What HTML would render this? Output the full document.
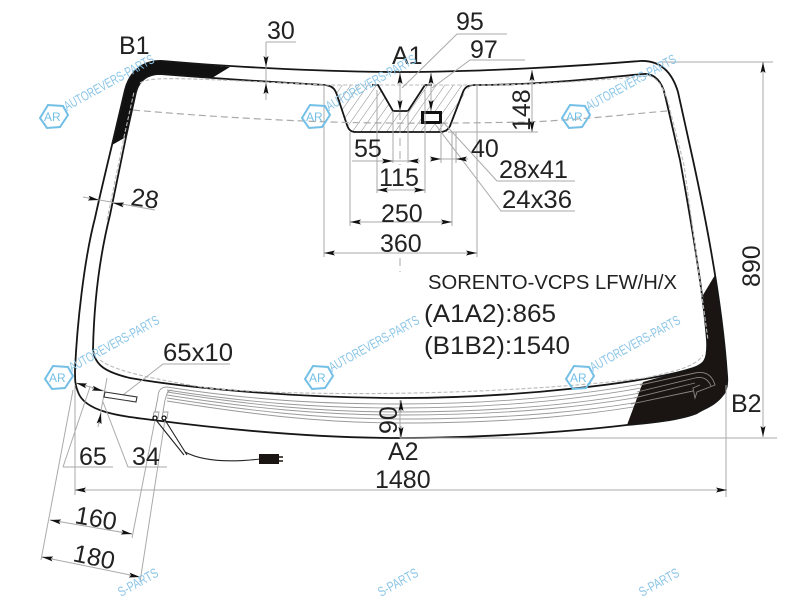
<!DOCTYPE html>
<html><head><meta charset="utf-8"><style>
html,body{margin:0;padding:0;background:#fff;width:800px;height:600px;overflow:hidden}
svg{display:block}
.t{font-family:"Liberation Sans",sans-serif;font-size:25px;fill:#222}
.d{stroke:#aaa;stroke-width:1;fill:none}
.a{stroke:#999;stroke-width:1;fill:none;marker-end:url(#ar)}
.m{font-family:"Liberation Sans",sans-serif;font-size:13.500px;fill:#8cc6e8}
.h{fill:none;stroke:#73bfe6;stroke-width:2}
.l{font-family:"Liberation Sans",sans-serif;font-size:12px;fill:#73bfe6}
.ht{fill:none;stroke:#999;stroke-width:.9}
</style></head><body>
<svg width="800" height="600" viewBox="0 0 800 600" xmlns="http://www.w3.org/2000/svg">
<defs>
<marker id="ar" markerUnits="userSpaceOnUse" markerWidth="11" markerHeight="7" refX="11" refY="3.5" orient="auto"><path d="M0 1L11 3.5L0 6L2 3.5Z" fill="#111"/></marker>
<pattern id="hat" width="7" height="7" patternUnits="userSpaceOnUse" patternTransform="rotate(35)"><rect width="7" height="7" fill="#fff"/><line x1="0" y1="0" x2="0" y2="7" stroke="#888" stroke-width="1"/></pattern>
</defs>
<rect width="800" height="600" fill="#fff"/>

<!-- hatch -->
<path d="M325 85L335 90L350 132L448 132L466 90L475 85L425 85L408 111L393 111L378 85Z" fill="url(#hat)"/>

<!-- heating lines -->
<path class="ht" d="M167 387C250 400 320 404 400 404C500 404 600 395 695 373"/>
<path class="ht" d="M167 390C250 403 320 408 400 408C500 408 600 399 695 377"/>
<path class="ht" d="M167 392C250 405 320 412 400 412C500 412 600 404 695 382"/>
<path class="ht" d="M167 395C250 408 320 415 400 415C500 415 600 408 695 386"/>
<path class="ht" d="M167 398C250 411 320 419 400 419C500 419 600 413 695 391"/>
<path class="ht" d="M167 401C250 414 320 423 400 423C500 423 600 417 695 395"/>

<!-- black corners -->
<path fill="#111" d="M112 145L125 90C130 70 145 60 163 61L230 67L212 78L160 74C148 74 139 80 136 92L126 137Z"/>
<path fill="#1a1512" d="M715 275L703 295L707 340C708 360 705 365 690 369L643 382L627 425L660 421C680 419 690 417 697 413C705 408 715 405 722 396C726 392 728 385 727 375C724 340 720 305 715 275Z"/>
<g fill="none" stroke="#8a8580" stroke-width=".9">
<path d="M640 385L695 373C705 371 712 375 715 385L697 392L695 398L693 388L700 385"/>
<path d="M637 392L695 378C703 376 708 379 711 386"/>
<path d="M634 398L695 383"/>
<path d="M631 404L693 391"/>
</g>

<!-- glass outlines -->
<path fill="none" stroke="#161616" stroke-width="1.8" d="M163 61C220 66 320 72 400 72C480 72 580 66 640 61C660 60 672 72 678 92L693 160C705 215 722 300 727 375C728 385 726 392 722 396C715 405 705 408 697 413C680 420 650 423 627 425C560 433 470 438 400 438C320 438 230 430 153 420C120 416 85 412 78 392C75 385 75 380 75 370C77 325 84 260 95 218C100 195 106 170 112 145L125 90C130 70 145 60 163 61Z"/>
<path fill="none" stroke="#161616" stroke-width="1.8" d="M325 85C335 86 336 92 338 98L347 125C349 131 352 132 356 132L440 132C445 132 448 130 450 126L463 92C465 87 468 85 475 85C540 85 600 78 643 74C655 73 662 82 665 95L680 160C690 215 703 290 707 340C708 360 705 365 690 369C650 382 520 398 400 398C310 398 200 390 130 378C105 372 95 365 93 350C94 300 100 255 110 215L126 137L136 92C139 80 148 74 160 74C210 78 270 82 325 85"/>
<path fill="none" stroke="#161616" stroke-width="1.8" d="M372 85L378 85L393 111L408 111L425 85L432 85"/>

<!-- dashed edge lines -->
<g fill="none" stroke="#aaa" stroke-width="1.2" stroke-dasharray="7 4">
<path d="M133 110C200 116 270 120 330 122C400 124 470 123 530 122C590 119 630 114 667 111"/>
</g>
<g fill="none" stroke="#bbb" stroke-width="1.1" stroke-dasharray="4 2">
<path d="M100 360C115 372 160 380 207 388C300 397 500 396 645 378C670 372 695 368 703 355"/>
<path d="M140 83C150 76 180 78 325 85L475 85C550 85 620 78 650 76C660 80 664 90 668 102L684 165L708 340"/>
<path d="M107 220L124 137L134 92"/>
</g>

<!-- rear-view hole -->
<rect x="422.500" y="112.500" width="18" height="10" fill="#fff" stroke="#111" stroke-width="3"/>

<!-- extension lines -->
<path class="d" d="M324 85V257M477 85V257M350 132V226M452 132V226M377 90V193M425 90V193M393 111V163M408 111V163M441 123V163M456 132V163"/>
<path class="d" d="M352 161H420M430 159H468M377 190H425M350 222H452M324 253H477"/>
<path class="d" d="M507 34H457L402 88M525 60H470L432 88M575 181H497L443 122M575 211H501L435 124"/>
<path class="d" d="M448 132H538M532 70V132M400 75V111M431 73V111M266 42V100M266 42H296"/>
<path class="d" stroke-dasharray="8 5" d="M400 112V165M400 258V272"/>
<path class="d" d="M83 197L155 210"/>
<path class="d" d="M660 62H773M763 62V437M400 438H777M726 385V497M75 385V495M75 490H727M400 400V438"/>
<path class="d" d="M230 364H163L123 395M63 467H113M63 467L90 387M167 467H128L103 402M76 383L105 391M107 378L98 427"/>
<path class="d" d="M73 390L41 560M155 420L132 538M165 420L140 582M50 520L132 534M42 557L140 577"/>

<!-- arrows -->
<path class="a" d="M400 84V73"/><path class="a" d="M400 100V111"/>
<path class="a" d="M431 84V73"/><path class="a" d="M431 100V111"/>
<path class="a" d="M532 81V70"/><path class="a" d="M532 121V132"/>
<path class="a" d="M266 56V67"/><path class="a" d="M266 95V83"/>
<path class="a" d="M382 161H393"/><path class="a" d="M419 161H408"/>
<path class="a" d="M430 159H441"/><path class="a" d="M467 159H456"/>
<path class="a" d="M388 190H377"/><path class="a" d="M414 190H425"/>
<path class="a" d="M361 222H350"/><path class="a" d="M441 222H452"/>
<path class="a" d="M335 253H324"/><path class="a" d="M466 253H477"/>
<path class="a" d="M88 198L99 200"/><path class="a" d="M124 205L113 203"/>
<path class="a" d="M763 73V62"/><path class="a" d="M763 426V437"/>
<path class="a" d="M86 490H75"/><path class="a" d="M716 490H727"/>
<path class="a" d="M401 412V400"/><path class="a" d="M401 426V438"/>
<path class="a" d="M87 386L76 383"/><path class="a" d="M92 388L103 391"/>
<path class="a" d="M99 424L101 413"/>
<path class="a" d="M61 522L50 520"/><path class="a" d="M121 532L132 534"/>
<path class="a" d="M53 559L42 557"/><path class="a" d="M129 575L140 577"/>

<!-- small rectangle & connector -->
<path d="M105 392L137 397L136 402L104 397Z" fill="#fff" stroke="#333" stroke-width="1.1"/>
<path class="ht" d="M167 387C160 387 158 392 158 397L155 412M172 390C166 391 167 395 165 400L163 412M154 412H159L158 418H153ZM163 412H168L167 418H162Z"/>
<circle cx="155" cy="418" r="2" fill="#fff" stroke="#111" stroke-width="1.3"/>
<circle cx="164" cy="418" r="2" fill="#fff" stroke="#111" stroke-width="1.3"/>
<path fill="none" stroke="#222" stroke-width="1.1" d="M156 420L184 455M165 420L187 455M185 452C200 460 225 463 260 459"/>
<rect x="259" y="454" width="20" height="10" fill="#1a1512"/>
<path stroke="#1a1512" stroke-width="1.5" d="M279 457H283M279 461H283"/>

<!-- labels -->
<text class="t" x="119" y="54">B1</text>
<text class="t" x="267" y="39">30</text>
<text class="t" x="456" y="30">95</text>
<text class="t" x="392" y="64">A1</text>
<text class="t" x="470" y="58">97</text>
<text class="t" x="354" y="157">55</text>
<text class="t" x="471" y="157">40</text>
<text class="t" x="379" y="186">115</text>
<text class="t" x="499" y="178" textLength="69" lengthAdjust="spacingAndGlyphs">28x41</text>
<text class="t" x="502" y="208" textLength="70" lengthAdjust="spacingAndGlyphs">24x36</text>
<text class="t" x="381" y="222">250</text>
<text class="t" x="380" y="252">360</text>
<text class="t" x="163" y="361" textLength="70" lengthAdjust="spacingAndGlyphs">65x10</text>
<text class="t" x="79" y="465">65</text>
<text class="t" x="132" y="465">34</text>
<text class="t" x="388" y="460">A2</text>
<text class="t" x="375" y="488">1480</text>
<text class="t" x="731" y="412">B2</text>
<text class="t" transform="translate(530 131) rotate(-90)">148</text>
<text class="t" transform="translate(397 434) rotate(-90)">90</text>
<text class="t" transform="translate(760 287) rotate(-90)">890</text>
<text class="t" transform="translate(130 205) rotate(8)">28</text>
<text class="t" transform="translate(74 523) rotate(10)">160</text>
<text class="t" transform="translate(72 561) rotate(12)">180</text>
<text class="t" x="428" y="289" style="font-size:20.500px" textLength="249" lengthAdjust="spacingAndGlyphs">SORENTO-VCPS LFW/H/X</text>
<text class="t" x="424" y="322" textLength="132" lengthAdjust="spacingAndGlyphs">(A1A2):865</text>
<text class="t" x="424" y="354" textLength="146" lengthAdjust="spacingAndGlyphs">(B1B2):1540</text>

<!-- watermarks -->
<g transform="translate(53 116)"><polygon class="h" points="-13,2 -5,-11 10,-10 15,-1 7,11 -6,12"/><text class="l" x="-9" y="5">AR</text><text class="m" transform="translate(14 -5) rotate(-29)" textLength="101" lengthAdjust="spacingAndGlyphs">AUTOREVERS-PARTS</text></g>
<g transform="translate(315 116)"><polygon class="h" points="-13,2 -5,-11 10,-10 15,-1 7,11 -6,12"/><text class="l" x="-9" y="5">AR</text><text class="m" transform="translate(14 -5) rotate(-29)" textLength="101" lengthAdjust="spacingAndGlyphs">AUTOREVERS-PARTS</text></g>
<g transform="translate(575 116)"><polygon class="h" points="-13,2 -5,-11 10,-10 15,-1 7,11 -6,12"/><text class="l" x="-9" y="5">AR</text><text class="m" transform="translate(14 -5) rotate(-29)" textLength="101" lengthAdjust="spacingAndGlyphs">AUTOREVERS-PARTS</text></g>
<g transform="translate(58 377)"><polygon class="h" points="-13,2 -5,-11 10,-10 15,-1 7,11 -6,12"/><text class="l" x="-9" y="5">AR</text><text class="m" transform="translate(14 -5) rotate(-29)" textLength="101" lengthAdjust="spacingAndGlyphs">AUTOREVERS-PARTS</text></g>
<g transform="translate(318 377)"><polygon class="h" points="-13,2 -5,-11 10,-10 15,-1 7,11 -6,12"/><text class="l" x="-9" y="5">AR</text><text class="m" transform="translate(14 -5) rotate(-29)" textLength="101" lengthAdjust="spacingAndGlyphs">AUTOREVERS-PARTS</text></g>
<g transform="translate(579 377)"><polygon class="h" points="-13,2 -5,-11 10,-10 15,-1 7,11 -6,12"/><text class="l" x="-9" y="5">AR</text><text class="m" transform="translate(14 -5) rotate(-29)" textLength="101" lengthAdjust="spacingAndGlyphs">AUTOREVERS-PARTS</text></g>
<text class="m" transform="translate(121 597) rotate(-29)" textLength="44" lengthAdjust="spacingAndGlyphs">S-PARTS</text>
<text class="m" transform="translate(381 597) rotate(-29)" textLength="44" lengthAdjust="spacingAndGlyphs">S-PARTS</text>
<text class="m" transform="translate(642 597) rotate(-29)" textLength="44" lengthAdjust="spacingAndGlyphs">S-PARTS</text>
</svg>
</body></html>
